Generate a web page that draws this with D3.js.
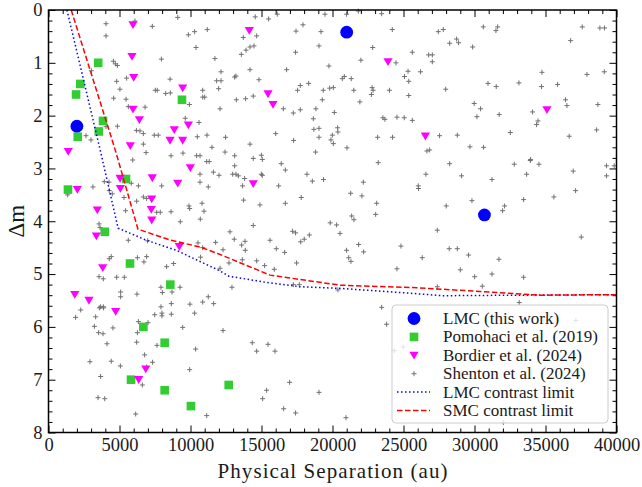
<!DOCTYPE html>
<html>
<head>
<meta charset="utf-8">
<script src="https://cdn.jsdelivr.net/npm/d3@7"></script>
<style>
  body { margin: 0; background: #fff; }
  text { font-family: "Liberation Serif", "DejaVu Serif", serif; }
</style>
</head>
<body>
<div id="chart"></div>
<script>
// LMC (this work)
var lmcSep = [2000, 21000, 30700];
var lmcDm = [2.2, 0.42, 3.88];

// Pomohaci et al. (2019)
var pomSep = [3500, 2240, 1940, 9400, 3840, 3540, 2060, 1370, 5460, 3960, 5740, 8580, 6680, 8180, 5810, 8180, 10030, 12690];
var pomDm = [1.0, 1.4, 1.6, 1.7, 2.1, 2.3, 2.4, 3.4, 3.2, 4.2, 4.8, 5.2, 6.0, 6.3, 7.0, 7.2, 7.5, 7.1];

// Bordier et al. (2024)
var borSep = [5950, 5880, 6000, 9450, 5950, 6400, 9850, 8860, 8560, 9450, 5760, 1390, 9990, 5040, 7310, 9100, 2030, 5060, 7270, 7240, 3440, 7270, 3370, 9210, 3820, 1850, 2850, 4730, 6850, 6350, 14140, 15460, 15810, 23910, 35100, 26540, 14420];
var borDm = [0.28, 0.88, 1.28, 1.48, 1.88, 2.08, 2.18, 2.27, 2.47, 2.47, 2.57, 2.68, 2.99, 3.19, 3.18, 3.28, 3.4, 3.38, 3.58, 3.78, 3.79, 3.98, 4.28, 4.48, 4.88, 5.39, 5.5, 5.71, 6.8, 7.0, 0.39, 1.59, 1.79, 0.98, 1.89, 2.39, 3.29];

// Shenton et al. (2024): [separation au, delta m]
var shenton = [
  [4050,0.26],[6090,0.21],[7310,0.31],[9100,0.14],[4050,0.49],[9850,0.47],[10290,0.41],[11180,0.37],[10390,0.71],[7950,0.93],
  [4570,0.97],[4710,1.02],[4850,1.05],[3020,1.15],[4800,1.35],[5500,1.29],[8560,1.31],[7520,1.52],[7660,1.52],[5030,1.50],
  [8250,1.58],[8580,1.57],[10860,1.52],[11840,1.34],[4590,1.67],[5460,1.69],[6800,1.84],[9920,1.79],[10860,1.65],[11000,1.65],
  [5620,1.83],[11720,0.92],[9630,2.05],[10600,2.13],[4850,2.20],[4050,2.21],[6440,2.29],[6190,2.28],[6680,2.34],[10480,2.40],
  [11160,2.37],[7450,2.37],[7730,2.37],[2640,2.38],[2990,2.46],[6680,2.54],[11510,2.60],[6870,2.70],[8630,2.76],[9470,2.71],
  [10430,2.76],[10670,2.76],
  [5930,2.84],[11140,2.87],[11320,2.87],[10670,3.11],[11610,3.07],[3930,3.25],[4260,3.26],[3130,3.35],[5830,3.28],[6330,3.33],
  [7970,3.33],[10670,3.26],[11250,3.35],[4280,3.42],[1350,3.50],[4490,3.48],[5320,3.55],[6680,3.54],[6910,3.57],[6210,3.62],
  [7620,3.83],[7870,3.83],[8630,3.82],[9890,3.71],[9940,3.76],[10810,3.66],[10950,3.81],[5430,3.80],[9280,4.01],[10690,3.96],
  [3560,4.05],[3630,4.12],[5620,4.36],[6980,4.37],[10530,4.41],[10860,4.50],[11770,4.40],[10710,4.68],[4420,4.67],[4280,4.71],
  [6260,4.69],[6720,4.77],[6910,4.67],[8320,4.86],[8810,4.80],[3560,5.05],[3860,5.09],[4800,5.06],[5340,5.06],[6230,5.38],
  [5080,5.34],[5080,5.43],[7920,5.25],[8020,5.35],[9260,5.25],[8700,5.34],[10860,5.53],[11250,5.43],[11630,5.56],[3670,5.62],
  [3860,5.62],
  [2270,5.68],[1910,5.82],[3320,5.81],[3580,5.64],[3880,5.64],[7480,5.77],[7920,5.62],[7990,5.74],[7990,5.79],[8650,5.76],
  [8650,5.56],[9960,5.57],[10290,5.74],[3230,5.99],[4540,6.02],[6330,5.90],[7010,5.92],[3530,6.11],[3840,6.13],[4120,6.32],
  [6260,6.11],[6210,6.29],[7640,6.35],[9450,6.01],[10360,6.42],[6770,6.53],[6910,6.76],[7330,6.67],[2920,6.66],[4420,6.65],
  [5060,6.74],[3670,6.94],[6610,7.10],[9940,6.81],[3490,7.34],[3960,7.36],[6140,7.65],[11140,7.68],
  [14560,0.13],[15500,0.17],[16110,0.08],[14660,0.49],[13720,0.52],[14470,0.68],[14190,0.70],[13910,0.76],[13580,0.84],[17430,0.40],
  [17920,0.28],[19190,0.41],[19470,0.08],[20990,0.08],[21820,0.02],[23460,0.07],[24210,0.37],[22830,0.71],[19050,0.68],[17400,0.80],
  [25620,0.80],[22000,0.95],[19750,1.06],[12150,1.17],[14190,1.13],[16770,1.13],[13110,1.27],[13200,1.25],[12150,1.34],[14820,1.32],
  [20830,1.26],[20690,1.30],[21320,1.30],[18320,1.39],[17730,1.43],[17540,1.52],[11980,1.49],[19350,1.52],[19800,1.48],[20060,1.47],
  [21500,1.52],[22790,1.47],[22860,1.52],[22740,1.60],[24010,1.52],[25370,1.35],[25070,1.26],[25320,1.16],[24470,1.00],[13230,1.70],
  [13880,1.68],[14420,1.63],[19280,1.70],[21930,1.74],[12080,1.87],[16540,1.87],[17240,1.95],[17730,1.89],[18830,1.87],[20130,1.94],
  [25370,1.62],[18650,2.06],[18690,2.26],[19050,2.24],[20360,2.23],[20380,2.31],[19990,2.37],[19890,2.46],[20060,2.53],[12470,2.41],
  [14190,2.54],[16000,2.34],[17260,2.47],[19050,2.41],[23180,2.41],[24230,2.41],[23550,2.04],[23690,2.07],[24540,2.03],[25050,2.04],
  [25620,2.09],[12430,2.69],[13110,2.76],[14420,2.81],[14990,2.75],[15060,2.83],[18810,2.69],[21020,2.61],
  [13110,2.95],[16390,2.91],[16680,3.03],[18200,3.11],[18580,3.24],[19370,3.21],[23220,2.89],[22170,3.26],[22070,3.52],[21280,3.47],
  [23110,3.66],[23040,3.87],
  [12010,3.13],[12970,3.11],[13200,3.11],[13370,3.14],[13810,3.19],[13670,3.33],[14990,3.11],[15060,3.13],[16210,3.33],[13740,3.60],
  [14890,3.69],[16680,3.66],[17800,3.55],[14420,4.08],[12780,4.20],[13080,4.34],[13600,4.45],[13840,4.38],[13860,4.55],[12290,4.54],
  [15600,4.36],[16040,4.52],[16630,4.59],[17190,4.19],[17400,4.22],[17760,4.39],[18010,4.34],[18370,4.26],[19840,4.03],[20290,4.07],
  [20530,4.23],[21350,3.90],[21510,3.97],[20990,4.55],[21840,4.44],[22190,4.58],[21140,4.69],[21300,4.76],[24820,4.47],[24540,4.90],
  [13650,4.73],[12710,4.79],[14660,4.75],[15220,4.84],[15900,4.91],[17470,4.79],[12080,4.89],[12920,5.25],[17240,5.20],[17660,5.20],
  [20380,5.30],[23460,5.63],[26040,3.33],[26060,3.38],
  [28250,2.91],[26580,3.11],[29090,3.14],[31230,3.21],[32800,2.92],[33930,2.85],[34540,2.92],[33670,3.11],[36950,3.05],[37120,3.42],
  [35590,3.54],[33460,3.59],[29820,3.61],[28010,3.71],[32120,3.71],[31980,3.80],[27380,4.17],[28220,4.52],[28790,4.52],[26320,4.69],
  [29580,4.64],[31720,4.72],[29000,4.92],[30010,5.05],[31230,5.00],[33460,5.06],[30550,5.23],[27380,5.24],[33150,5.54],[37520,4.30],
  [39300,2.95],[39840,2.95],[39300,3.14],
  [27450,0.41],[27800,0.37],[28250,0.63],[28740,0.55],[28880,0.62],[29870,0.70],[30620,0.32],[31510,0.39],[31630,0.32],[26770,0.85],
  [27030,0.85],[27030,0.98],[26200,1.17],[27970,1.50],[30950,1.39],[31530,1.45],[33130,1.38],[34750,1.18],[34720,1.45],[35850,1.41],
  [29980,1.77],[30430,1.87],[30170,2.02],[31740,1.98],[32520,2.32],[34090,1.93],[34470,2.10],[34370,2.17],[36410,1.70],[36510,1.81],
  [36770,0.58],[37590,0.32],[38830,0.34],[39160,0.34],[37920,1.22],[39140,1.17],[38690,1.79],[38600,2.27],[36670,2.39],[27540,2.38],
  [28790,2.37],[29680,2.59],[30640,2.60],[26650,2.67],[26840,2.65],[33950,2.83],
  [23810,5.95],[12290,6.07],[14350,6.30],[15460,6.33],[14660,6.46],[15950,6.46],[16980,7.05],[15360,7.20],[15080,7.36],[19050,7.24],
  [16560,7.55],[17400,7.63],[20950,7.72],[24350,6.45],[24980,6.38],[37140,5.88],[32030,7.81]
];

// contrast limits
var lmcLimSep = [1300, 3700, 4900, 6900, 9000, 12000, 12700, 15400, 17700, 20500, 24800, 27800, 33000, 40000];
var lmcLimDm = [0, 2.72, 4.13, 4.36, 4.55, 4.93, 5.04, 5.16, 5.24, 5.27, 5.35, 5.41, 5.40, 5.39];
var smcLimSep = [1600, 4700, 6300, 8500, 10700, 12000, 15600, 20500, 26000, 30400, 34600, 40000];
var smcLimDm = [0, 2.65, 4.15, 4.35, 4.49, 4.62, 5.02, 5.21, 5.26, 5.33, 5.40, 5.39];

var xMajor = [0, 5000, 10000, 15000, 20000, 25000, 30000, 35000, 40000];
var yMajor = [0, 1, 2, 3, 4, 5, 6, 7, 8];

var legendLabels = ['LMC (this work)', 'Pomohaci et al. (2019)', 'Bordier et al. (2024)',
                    'Shenton et al. (2024)', 'LMC contrast limit', 'SMC contrast limit'];

var W = 642, H = 487;
var pL = 48.5, pR = 616.5, pT = 10, pB = 432.5;

var x = d3.scaleLinear().domain([0, 40000]).range([pL, pR]);
var y = d3.scaleLinear().domain([0, 8]).range([pT, pB]);

var svg = d3.select('#chart').append('svg')
    .attr('width', W).attr('height', H);

var xMinor = d3.range(0, 40001, 1000).filter(function(v){ return v % 5000 !== 0; });
var yMinor = d3.range(0, 41).map(function(i){ return i / 5; }).filter(function(v){ return Math.abs(v - Math.round(v)) > 1e-6; });

//Axes with inward ticks on all four sides
function addAxis(axis, tx, ty, labels){
    var g = svg.append('g').attr('transform', 'translate(' + tx + ',' + ty + ')').call(axis);
    g.select('.domain').remove();
    g.selectAll('line').attr('stroke', '#000').attr('stroke-width', 1);
    if (!labels) g.selectAll('text').remove();
    return g;
}
var xb = addAxis(d3.axisBottom(x).tickValues(xMajor).tickSize(-7).tickPadding(5).tickFormat(d3.format('d')), 0, pB, true);
xb.selectAll('text').attr('font-size', 18.5).attr('fill', '#1a1a1a');
addAxis(d3.axisBottom(x).tickValues(xMinor).tickSize(-4).tickFormat(''), 0, pB, false);
addAxis(d3.axisTop(x).tickValues(xMajor).tickSize(-7).tickFormat(''), 0, pT, false);
addAxis(d3.axisTop(x).tickValues(xMinor).tickSize(-4).tickFormat(''), 0, pT, false);
var yl = addAxis(d3.axisLeft(y).tickValues(yMajor).tickSize(-7).tickPadding(6).tickFormat(d3.format('d')), pL, 0, true);
yl.selectAll('text').attr('font-size', 18.5).attr('fill', '#1a1a1a');
addAxis(d3.axisLeft(y).tickValues(yMinor).tickSize(-4).tickFormat(''), pL, 0, false);
addAxis(d3.axisRight(y).tickValues(yMajor).tickSize(-7).tickFormat(''), pR, 0, false);
addAxis(d3.axisRight(y).tickValues(yMinor).tickSize(-4).tickFormat(''), pR, 0, false);

var plot = svg.append('g');

var crossPath = 'M-2.5,0H2.5M0,-2.5V2.5';
var triPath = 'M-4.6,-3.6L4.6,-3.6L0,4.2Z';

//Shenton points
plot.selectAll('.shenton')
    .data(shenton)
    .enter()
    .append('path')
    .attr('class', 'shenton')
    .attr('d', crossPath)
    .attr('transform', function(d){ return 'translate(' + x(d[0]) + ',' + y(d[1]) + ')'; })
    .attr('stroke', '#707070')
    .attr('stroke-width', 1)
    .attr('fill', 'none');

//Pomohaci squares
plot.selectAll('.pom')
    .data(pomSep)
    .enter()
    .append('rect')
    .attr('x', function(d){ return x(d) - 4.3; })
    .attr('y', function(d, i){ return y(pomDm[i]) - 4.3; })
    .attr('width', 8.6).attr('height', 8.6)
    .attr('fill', '#32cd32');

//Bordier triangles
plot.selectAll('.bor')
    .data(borSep)
    .enter()
    .append('path')
    .attr('d', triPath)
    .attr('transform', function(d, i){ return 'translate(' + x(d) + ',' + y(borDm[i]) + ')'; })
    .attr('fill', '#ff00ff');

//LMC circles
plot.selectAll('.lmc')
    .data(lmcSep)
    .enter()
    .append('circle')
    .attr('cx', function(d){ return x(d); })
    .attr('cy', function(d, i){ return y(lmcDm[i]); })
    .attr('r', 6.4)
    .attr('fill', '#0000ff');

//Contrast limits
var line = d3.line().x(function(d){ return x(d[0]); }).y(function(d){ return y(d[1]); });
plot.append('path')
    .datum(d3.zip(lmcLimSep, lmcLimDm))
    .attr('d', line)
    .attr('fill', 'none')
    .attr('stroke', '#0000ff')
    .attr('stroke-width', 1.5)
    .attr('stroke-dasharray', '1.5,2.5');
plot.append('path')
    .datum(d3.zip(smcLimSep, smcLimDm))
    .attr('d', line)
    .attr('fill', 'none')
    .attr('stroke', '#ff0000')
    .attr('stroke-width', 1.5)
    .attr('stroke-dasharray', '5.5,2.5');

//Frame
svg.append('rect')
    .attr('x', pL).attr('y', pT)
    .attr('width', pR - pL).attr('height', pB - pT)
    .attr('fill', 'none').attr('stroke', '#000').attr('stroke-width', 1.5);

//Axis labels
svg.append('text')
    .attr('x', (pL + pR) / 2).attr('y', 478)
    .attr('text-anchor', 'middle')
    .attr('font-size', 21)
    .attr('textLength', 230)
    .attr('lengthAdjust', 'spacing')
    .attr('fill', '#1a1a1a')
    .text('Physical Separation (au)');
svg.append('text')
    .attr('transform', 'translate(24,' + (pT + pB) / 2 + ') rotate(-90)')
    .attr('text-anchor', 'middle')
    .attr('font-size', 23)
    .attr('fill', '#1a1a1a')
    .text('Δm');

//Legend
var lg = svg.append('g').attr('transform', 'translate(392,305)');
lg.append('rect')
    .attr('width', 216).attr('height', 118)
    .attr('rx', 4)
    .attr('fill', '#fff').attr('fill-opacity', 0.8)
    .attr('stroke', '#ccc').attr('stroke-width', 1);
var rowY = function(i){ return 13.5 + i * 18.4; };
lg.selectAll('.lab')
    .data(legendLabels)
    .enter()
    .append('text')
    .attr('x', 51).attr('y', function(d, i){ return rowY(i) + 5.5; })
    .attr('font-size', 17)
    .attr('fill', '#1a1a1a')
    .text(function(d){ return d; });
lg.append('circle').attr('cx', 22).attr('cy', rowY(0)).attr('r', 6.4).attr('fill', '#0000ff');
lg.append('rect').attr('x', 22 - 4.3).attr('y', rowY(1) - 4.3).attr('width', 8.6).attr('height', 8.6).attr('fill', '#32cd32');
lg.append('path').attr('d', triPath).attr('transform', 'translate(22,' + rowY(2) + ')').attr('fill', '#ff00ff');
lg.append('path').attr('d', crossPath).attr('transform', 'translate(22,' + rowY(3) + ')')
    .attr('stroke', '#707070').attr('stroke-width', 1);
lg.append('line').attr('x1', 5).attr('x2', 38).attr('y1', rowY(4)).attr('y2', rowY(4))
    .attr('stroke', '#0000ff').attr('stroke-width', 1.5).attr('stroke-dasharray', '1.5,2.5');
lg.append('line').attr('x1', 5).attr('x2', 38).attr('y1', rowY(5)).attr('y2', rowY(5))
    .attr('stroke', '#ff0000').attr('stroke-width', 1.5).attr('stroke-dasharray', '5.5,2.5');
</script>
</body>
</html>
